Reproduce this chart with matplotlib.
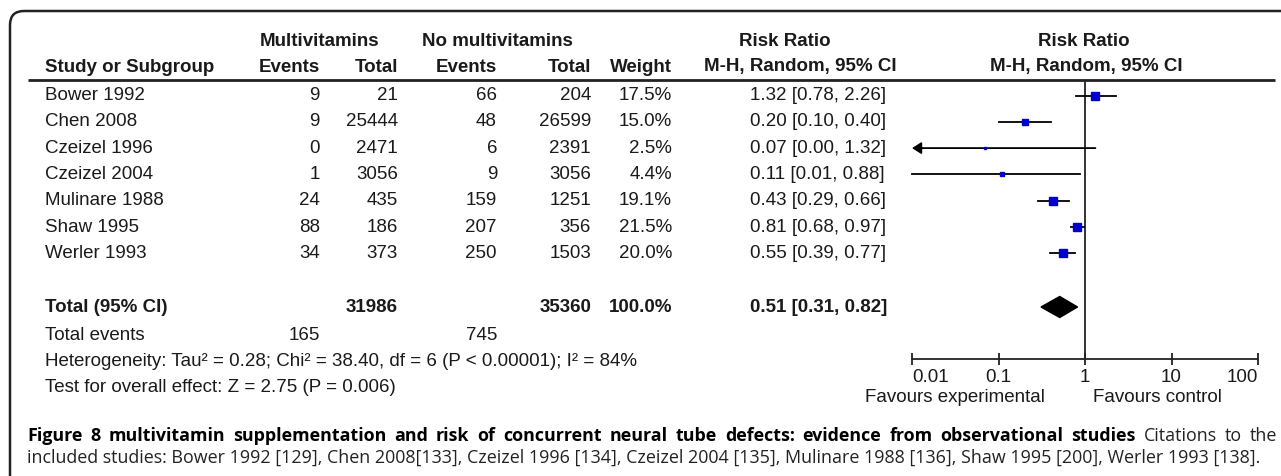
import matplotlib
matplotlib.use("Agg")
import matplotlib.pyplot as plt
from matplotlib.patches import FancyBboxPatch, Polygon
import numpy as np

# ---------------- data ----------------
studies = ["Bower 1992", "Chen 2008", "Czeizel 1996", "Czeizel 2004",
           "Mulinare 1988", "Shaw 1995", "Werler 1993"]
mv_events = [9, 9, 0, 1, 24, 88, 34]
mv_total = [21, 25444, 2471, 3056, 435, 186, 373]
no_events = [66, 48, 6, 9, 159, 207, 250]
no_total = [204, 26599, 2391, 3056, 1251, 356, 1503]
weights = [17.5, 15.0, 2.5, 4.4, 19.1, 21.5, 20.0]
rr = [1.32, 0.20, 0.07, 0.11, 0.43, 0.81, 0.55]
rr_lo = [0.78, 0.10, 0.00, 0.01, 0.29, 0.68, 0.39]
rr_hi = [2.26, 0.40, 1.32, 0.88, 0.66, 0.97, 0.77]

total_mv = 31986
total_no = 35360
total_weight = 100.0
total_rr, total_lo, total_hi = 0.51, 0.31, 0.82
total_events_mv = 165
total_events_no = 745

heterogeneity = "Heterogeneity: Tau² = 0.28; Chi² = 38.40, df = 6 (P < 0.00001); I² = 84%"
overall = "Test for overall effect: Z = 2.75 (P = 0.006)"
tick_vals = [0.01, 0.1, 1, 10, 100]
tick_labels = ["0.01", "0.1", "1", "10", "100"]
caption_bold = "Figure 8 multivitamin supplementation and risk of concurrent neural tube defects: evidence from observational studies"
caption_rest1 = "Citations to the"
caption_line2 = ("included studies: Bower 1992 [129], Chen 2008[133], Czeizel 1996 [134], "
                 "Czeizel 2004 [135], Mulinare 1988 [136], Shaw 1995 [200], Werler 1993 [138].")

# ---------------- layout ----------------
W, H = 1281, 476
fig = plt.figure(figsize=(W / 100, H / 100), dpi=100)
pa = fig.add_axes([0, 0, 1, 1])
pa.set_xlim(0, W)
pa.set_ylim(H, 0)
pa.axis("off")

TF = "Liberation Sans"
fs = 13.5
tc = "#1a1a1a"


def T(x, y, s, ha="left", bold=False, size=fs, **kw):
    return pa.text(x, y, s, ha=ha, va="center", fontsize=size, family=TF,
                   weight="bold" if bold else "normal", color=tc, **kw)


# border box
box = FancyBboxPatch((10, 11), 1400, 600, boxstyle="round,pad=0,rounding_size=14",
                     fill=False, lw=1.8, ec="#222222")
pa.add_patch(box)

# headers
y_h1, y_h2 = 42, 67
T(320, y_h1, "Multivitamins", ha="center", bold=True)
T(497, y_h1, "No multivitamins", ha="center", bold=True)
T(785, y_h1, "Risk Ratio", ha="center", bold=True)
T(1084, y_h1, "Risk Ratio", ha="center", bold=True)

col_name = 45
col_r = [320, 398, 497, 591, 672]
T(col_name, y_h2, "Study or Subgroup", bold=True)
for x, lab in zip(col_r, ["Events", "Total", "Events", "Total", "Weight"]):
    T(x, y_h2, lab, ha="right", bold=True)
T(800, y_h2, "M-H, Random, 95% CI", ha="center", bold=True)
T(1086, y_h2, "M-H, Random, 95% CI", ha="center", bold=True)
pa.plot([28, 1275], [80, 80], color="#222222", lw=2.0, solid_capstyle="butt")

# rows
y0, step = 95.5, 26.3
row_y = [y0 + step * i for i in range(len(studies))]
rr_x = 750
for i, y in enumerate(row_y):
    T(col_name, y, studies[i])
    vals = [mv_events[i], mv_total[i], no_events[i], no_total[i]]
    for x, v in zip(col_r[:4], vals):
        T(x, y, f"{v}", ha="right")
    T(col_r[4], y, f"{weights[i]:.1f}%", ha="right")
    T(rr_x, y, f"{rr[i]:.2f} [{rr_lo[i]:.2f}, {rr_hi[i]:.2f}]")

y_tot = 307
T(col_name, y_tot, "Total (95% CI)", bold=True)
T(col_r[1], y_tot, f"{total_mv}", ha="right", bold=True)
T(col_r[3], y_tot, f"{total_no}", ha="right", bold=True)
T(col_r[4], y_tot, f"{total_weight:.1f}%", ha="right", bold=True)
T(rr_x, y_tot, f"{total_rr:.2f} [{total_lo:.2f}, {total_hi:.2f}]", bold=True)

y_te = 335
T(col_name, y_te, "Total events")
T(col_r[0], y_te, f"{total_events_mv}", ha="right")
T(col_r[2], y_te, f"{total_events_no}", ha="right")
T(col_name, 361, heterogeneity)
T(col_name, 388, overall)

T(955, 398, "Favours experimental", ha="center")
T(1157, 398, "Favours control", ha="center")

# ---------------- forest plot ----------------
x_left, x_right, y_top, y_axis = 912, 1258, 80, 359
fa = fig.add_axes([x_left / W, 1 - y_axis / H, (x_right - x_left) / W, (y_axis - y_top) / H])
fa.set_xscale("log")
fa.set_xlim(0.01, 100)
fa.set_ylim(y_axis, y_top)
fa.patch.set_alpha(0)
for s in ["top", "left", "right"]:
    fa.spines[s].set_visible(False)
fa.spines["bottom"].set_linewidth(1.3)
fa.spines["bottom"].set_color("#222222")
fa.set_yticks([])
fa.set_xticks(tick_vals)
fa.set_xticklabels(tick_labels, fontsize=fs, family=TF, color=tc)
fa.minorticks_off()
fa.tick_params(axis="x", direction="inout", length=9, width=1.3, color="#222222", pad=3)
tls = fa.get_xticklabels()
tls[0].set_ha("left")
tls[-1].set_ha("right")
fa.axvline(1, color="#222222", lw=1.3)

for i, y in enumerate(row_y):
    if rr_lo[i] < 0.01:
        fa.annotate("", xy=(0.01, y), xytext=(rr_hi[i], y),
                    arrowprops=dict(arrowstyle="-|>,head_length=0.55,head_width=0.35",
                                    color="black", lw=1.3, mutation_scale=10,
                                    shrinkA=0, shrinkB=0),
                    annotation_clip=False)
    else:
        fa.plot([rr_lo[i], rr_hi[i]], [y, y], color="black", lw=1.3, clip_on=False)
    fa.plot(rr[i], y, marker="s", ms=1.3 * np.sqrt(weights[i]), color="#0000cc",
            mec="#0000cc", ls="none", clip_on=False, zorder=3)

dh = 10.5
fa.add_patch(Polygon([[total_lo, y_tot], [total_rr, y_tot - dh], [total_hi, y_tot],
                      [total_rr, y_tot + dh]], closed=True, fc="black", ec="black", zorder=3))

# ---------------- caption ----------------
CF = "Open Sans"
cx0, cx1_line1, cx1_line2 = 27, 1277, 1262
y_c1, y_c2 = 436, 458
fig.canvas.draw()
r = fig.canvas.get_renderer()

base = 11.0
t2 = pa.text(cx0, y_c2, caption_line2, ha="left", va="center", fontsize=base, family=CF, color="#222222")
w2 = t2.get_window_extent(r).width
cfs = base * (cx1_line2 - cx0) / w2
t2.set_fontsize(cfs)

words = [(w, True) for w in caption_bold.split()] + [(w, False) for w in caption_rest1.split()]
objs = []
for w, b in words:
    o = pa.text(0, y_c1, w, ha="left", va="center", fontsize=cfs, family=CF,
                weight="bold" if b else "normal", color="black" if b else "#222222")
    objs.append(o)
widths = [o.get_window_extent(r).width for o in objs]
gap = ((cx1_line1 - cx0) - sum(widths)) / (len(objs) - 1)
x = cx0
for o, wdt in zip(objs, widths):
    o.set_x(x)
    x += wdt + gap

fig.savefig("out.png", dpi=100)
